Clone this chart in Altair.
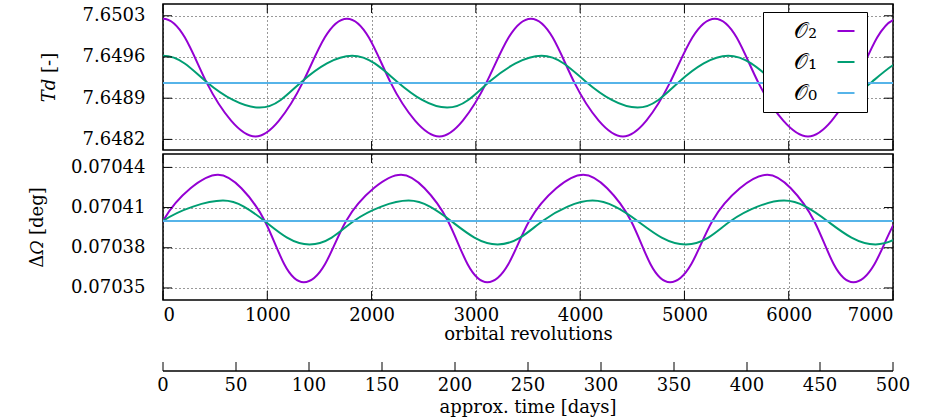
import altair as alt
import pandas as pd

FONT = "DejaVu Serif"
W, H = 730, 146
TICK = 9
DAYS_Y = 71          # distance of the day axis line below the lower frame
REV_PER_DAY = 14.0   # 7000 revolutions <-> 500 days

LABELS = ["𝒪₂", "𝒪₁", "𝒪₀"]
COLORS = ["#9400d3", "#009e73", "#56b4e9"]

X_TICKS = [0, 1000, 2000, 3000, 4000, 5000, 6000, 7000]
DAY_TICKS = [0, 50, 100, 150, 200, 250, 300, 350, 400, 450, 500]
TD_TICKS = [7.6482, 7.6489, 7.6496, 7.6503]
DO_TICKS = [0.07035, 0.07038, 0.07041, 0.07044]
DAYS_TITLE = ["approx. time [days]"]

# ---- top panel: T_d ----
td_o2_x = [-420, -210, 0, 210, 420, 653, 886, 1112, 1338, 1551, 1764, 1974, 2184, 2417, 2650, 2875, 3100, 3314,
           3528, 3737, 3946, 4178, 4410, 4635, 4860, 5076, 5292, 5501, 5710, 5948, 6185, 6413, 6640, 6848, 7056,
           7268, 7480]
td_o2_y = [7.64916, 7.64993, 7.65025, 7.64993, 7.64916, 7.64852, 7.64825, 7.64852, 7.64916, 7.64993, 7.65025,
           7.64993, 7.64916, 7.64852, 7.64825, 7.64852, 7.64916, 7.64993, 7.65025, 7.64993, 7.64916, 7.64852,
           7.64825, 7.64852, 7.64916, 7.64993, 7.65025, 7.64993, 7.64916, 7.64852, 7.64825, 7.64852, 7.64916,
           7.64993, 7.65025, 7.64993, 7.64916]
td_o1_x = [-480, -240, 0, 208, 415, 671, 927, 1129, 1330, 1572, 1814, 2030, 2245, 2485, 2724, 2927, 3129, 3380,
           3630, 3843, 4055, 4303, 4550, 4750, 4950, 5185, 5420, 5640, 5860, 6095, 6330, 6565, 6800, 7025, 7250,
           7465, 7680]
td_o1_y = [7.64918, 7.64949, 7.64962, 7.64949, 7.64918, 7.64887, 7.64874, 7.64887, 7.64918, 7.64949, 7.64962,
           7.64949, 7.64918, 7.64887, 7.64874, 7.64887, 7.64918, 7.64949, 7.64962, 7.64949, 7.64918, 7.64887,
           7.64874, 7.64887, 7.64918, 7.64949, 7.64962, 7.64949, 7.64918, 7.64887, 7.64874, 7.64887, 7.64918,
           7.64949, 7.64962, 7.64949, 7.64918]
td_o0_x = [0, 7000]
td_o0_y = [7.64916, 7.64916]

# ---- bottom panel: Delta Omega ----
do_o2_x = [-406, -203, 0, 264, 527, 752, 976, 1163, 1350, 1553, 1756, 2020, 2283, 2508, 2732, 2921, 3110, 3311,
           3512, 3771, 4030, 4259, 4488, 4675, 4862, 5065, 5268, 5532, 5795, 6020, 6244, 6432, 6620, 6822, 7024,
           7287, 7550]
do_o2_y = [0.0703543, 0.0703677, 0.0704, 0.0704244, 0.0704345, 0.0704244, 0.0704, 0.0703677, 0.0703543,
           0.0703677, 0.0704, 0.0704244, 0.0704345, 0.0704244, 0.0704, 0.0703677, 0.0703543, 0.0703677, 0.0704,
           0.0704244, 0.0704345, 0.0704244, 0.0704, 0.0703677, 0.0703543, 0.0703677, 0.0704, 0.0704244,
           0.0704345, 0.0704244, 0.0704, 0.0703677, 0.0703543, 0.0703677, 0.0704, 0.0704244, 0.0704345]
do_o1_x = [-425, -212, 0, 288, 575, 775, 974, 1190, 1405, 1618, 1830, 2093, 2355, 2559, 2762, 2986, 3209, 3425,
           3640, 3880, 4119, 4335, 4550, 4782, 5013, 5229, 5444, 5700, 5955, 6163, 6370, 6602, 6833, 7047, 7260]
do_o1_y = [0.0703825, 0.0703876, 0.0704, 0.0704107, 0.0704152, 0.0704107, 0.0704, 0.0703876, 0.0703825,
           0.0703876, 0.0704, 0.0704107, 0.0704152, 0.0704107, 0.0704, 0.0703876, 0.0703825, 0.0703876, 0.0704,
           0.0704107, 0.0704152, 0.0704107, 0.0704, 0.0703876, 0.0703825, 0.0703876, 0.0704, 0.0704107,
           0.0704152, 0.0704107, 0.0704, 0.0703876, 0.0703825, 0.0703876, 0.0704]
do_o0_x = [0, 7000]
do_o0_y = [0.0704, 0.0704]


def frame(series):
    rows = []
    for lab, xs, ys in series:
        for i, (a, b) in enumerate(zip(xs, ys)):
            rows.append({"series": lab, "x": a, "y": b, "i": i})
    return pd.DataFrame(rows)


td_df = frame([(LABELS[0], td_o2_x, td_o2_y), (LABELS[1], td_o1_x, td_o1_y), (LABELS[2], td_o0_x, td_o0_y)])
do_df = frame([(LABELS[0], do_o2_x, do_o2_y), (LABELS[1], do_o1_x, do_o1_y), (LABELS[2], do_o0_x, do_o0_y)])
xt_df = pd.DataFrame({"x": X_TICKS})
days_df = pd.DataFrame({"d": DAY_TICKS})
title_df = pd.DataFrame({"t": DAYS_TITLE})

GRID = dict(gridColor="black", gridDash=[1, 3], gridOpacity=0.8, gridWidth=1)


def panel(df, yvals, yfmt, ytitle, ydom, show_x, legend):
    xs = alt.Scale(domain=[0, 7000], nice=False, zero=False)
    ys = alt.Scale(domain=ydom, nice=False, zero=False)
    if show_x:
        xaxis = alt.Axis(values=X_TICKS, format="d", grid=True, ticks=False, domain=False,
                         labelPadding=6, title="orbital revolutions", titlePadding=1, **GRID)
    else:
        xaxis = alt.Axis(values=X_TICKS, format="d", grid=True, ticks=False, domain=False,
                         labels=False, title=None, minExtent=0, maxExtent=0, **GRID)
    yaxis = alt.Axis(values=yvals, format=yfmt, grid=True, ticks=False, domain=False,
                     labelPadding=18, title=ytitle, titlePadding=24, **GRID)
    X = alt.X("x:Q", scale=xs, axis=xaxis)
    Y = alt.Y("y:Q", scale=ys, axis=yaxis)

    lines = alt.Chart(df).mark_line(strokeWidth=2, clip=True, interpolate="natural").encode(
        x=X, y=Y,
        color=alt.Color("series:N", scale=alt.Scale(domain=LABELS, range=COLORS), legend=legend,
                        sort=LABELS),
        order=alt.Order("i:Q"),
    )
    yt_df = pd.DataFrame({"y": yvals})
    tick_rule = dict(color="black", strokeWidth=1)
    xb = alt.Chart(xt_df).mark_rule(**tick_rule).encode(x=X, y=alt.value(H), y2=alt.value(H - TICK))
    xtp = alt.Chart(xt_df).mark_rule(**tick_rule).encode(x=X, y=alt.value(0), y2=alt.value(TICK))
    yl = alt.Chart(yt_df).mark_rule(**tick_rule).encode(y=Y, x=alt.value(0), x2=alt.value(TICK))
    yr = alt.Chart(yt_df).mark_rule(**tick_rule).encode(y=Y, x=alt.value(W), x2=alt.value(W - TICK))
    layers = [lines, xb, xtp, yl, yr]

    if show_x:
        dbase = alt.Chart(days_df).transform_calculate(x=f"datum.d * {REV_PER_DAY}")
        tbase = alt.Chart(title_df)
        d_ticks = dbase.mark_rule(color="black", strokeWidth=1).encode(
            x=X, y=alt.value(H + DAYS_Y), y2=alt.value(H + DAYS_Y - TICK))
        d_line = tbase.mark_rule(color="black", strokeWidth=1.5).encode(
            x=alt.value(0), x2=alt.value(W), y=alt.value(H + DAYS_Y))
        d_labels = dbase.mark_text(font=FONT, fontSize=18, fontWeight="normal", color="black",
                                   baseline="middle").encode(
            x=X, y=alt.value(H + DAYS_Y + 15), text=alt.Text("d:Q", format="d"))
        d_title = tbase.mark_text(font=FONT, fontSize=18, fontWeight="normal", color="black",
                                  baseline="middle").encode(
            x=alt.value(W / 2), y=alt.value(H + DAYS_Y + 37), text=alt.Text("t:N"))
        layers += [d_ticks, d_line, d_labels, d_title]

    return alt.layer(*layers).properties(width=W, height=H)


legend = alt.Legend(orient="none", legendX=600, legendY=8, title=None, symbolType="stroke",
                    symbolStrokeWidth=2, symbolSize=289, labelFont=FONT, labelFontSize=22,
                    labelColor="black", labelAlign="right", labelBaseline="middle",
                    labelOffset={"expr": "-40"}, symbolOffset=64, padding=8, rowPadding=9,
                    strokeColor="black", fillColor="white")

top = panel(td_df, TD_TICKS, ".4f", "𝑇𝑑 [-]", [7.64802, 7.65050], False, legend)
bottom = panel(do_df, DO_TICKS, ".5f", "Δ𝛺 [deg]", [0.070341, 0.07045], True, None)

chart = alt.vconcat(top, bottom, spacing=0).resolve_scale(color="independent").properties(
    padding={"left": 27, "top": 2, "right": 0, "bottom": 0}
).configure_view(stroke="black", strokeWidth=1.5).configure_axis(
    labelFont=FONT, labelFontSize=18, labelColor="black",
    titleFont=FONT, titleFontSize=18, titleFontWeight="normal", titleColor="black"
)

chart.save("out.html", embed_options={"renderer": "svg", "actions": False})
